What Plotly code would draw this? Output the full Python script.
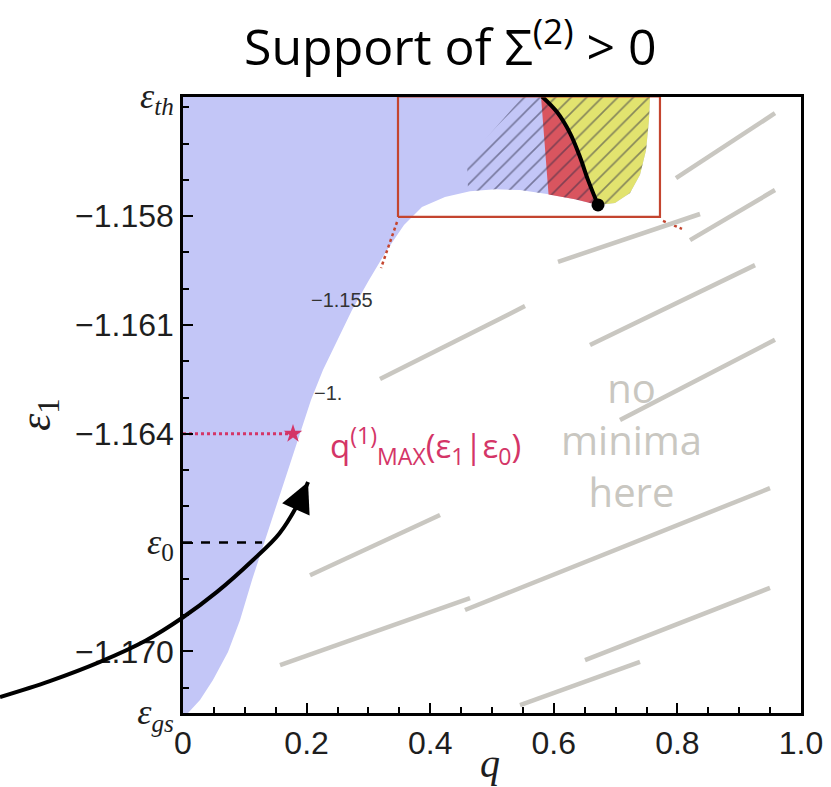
import numpy as np
import plotly.graph_objects as go

# ---------------- data ----------------
EPS_GS = -1.1717      # ground state energy (bottom of axis)
EPS_TH = -1.1547      # threshold energy (top of axis)
EPS_0 = -1.167        # reference energy eps_0
EPS_1_MARK = -1.164   # eps_1 used for q_max annotation
Q_MAX_MARK = 0.178

x_tick_vals = [0, 0.2, 0.4, 0.6, 0.8, 1.0]
x_tick_text = ["0", "0.2", "0.4", "0.6", "0.8", "1.0"]
y_tick_vals = [EPS_TH, -1.158, -1.161, -1.164, EPS_0, -1.170, EPS_GS]
SERIF = "font-family:Liberation Serif;font-size:36px"
y_tick_text = [
    f'<span style="{SERIF}"><i>ε</i><sub><i>th</i></sub></span>',
    "−1.158", "−1.161", "−1.164",
    f'<span style="{SERIF}"><i>ε</i><sub>0</sub></span>',
    "−1.170",
    f'<span style="{SERIF}"><i>ε</i><sub><i>gs</i></sub></span>',
]

# lower boundary of the support (q, eps1)
boundary_q = [0.0, 0.0081, 0.0275, 0.0485, 0.0728, 0.0922, 0.1117, 0.1311, 0.1537,
              0.1748, 0.1877, 0.2071, 0.2265, 0.2492, 0.2735, 0.3010, 0.3301, 0.3576,
              0.3867, 0.4239, 0.4644, 0.5049, 0.5453, 0.5890, 0.6343, 0.6715, 0.6990,
              0.7233, 0.7395, 0.7492, 0.7540, 0.7557]
boundary_eps = [-1.17170, -1.17170, -1.17134, -1.17079, -1.17002, -1.16914, -1.16803,
                -1.16701, -1.16583, -1.16472, -1.16403, -1.16307, -1.16224, -1.16142,
                -1.16059, -1.15976, -1.15893, -1.15824, -1.15775, -1.15747, -1.15731,
                -1.15726, -1.15728, -1.15739, -1.15753, -1.15769, -1.15764, -1.15736,
                -1.15686, -1.15618, -1.15535, -1.15470]

# critical line (black) separating red and yellow
critical_q = [0.5809, 0.6052, 0.6262, 0.6424, 0.6553, 0.6715]
critical_eps = [-1.15470, -1.15513, -1.15571, -1.15637, -1.15700, -1.15769]

# blue / red separation
red_edge_q = [0.5793, 0.5915]
red_edge_eps = [-1.15470, -1.15740]

# hatched area left edge
hatch_edge_q = [0.5502, 0.4595, 0.4612]
hatch_edge_eps = [-1.15470, -1.15645, -1.15731]

# zoom box
box_q = [0.3479, 0.7718]
box_eps = [-1.15802, -1.15470]
guide_left_q = [0.3463, 0.3204]
guide_left_eps = [-1.15816, -1.15943]
guide_right_q = [0.7767, 0.8074]
guide_right_eps = [-1.15813, -1.15835]

# hand-drawn "no minima" strokes (start q, start eps, end q, end eps)
stroke_q0 = [0.7977, 0.8204, 0.6068, 0.3188, 0.6586, 0.7071, 0.2055, 0.4563, 0.1570, 0.6505, 0.5453]
stroke_e0 = [-1.15695, -1.15866, -1.15926, -1.16249, -1.16155, -1.16362, -1.16790, -1.16886, -1.17038, -1.17024, -1.17148]
stroke_q1 = [0.9579, 0.9579, 0.8366, 0.5534, 0.9256, 0.9579, 0.4159, 0.9498, 0.4644, 0.9498, 0.7395]
stroke_e1 = [-1.15516, -1.15728, -1.15794, -1.16048, -1.15935, -1.16141, -1.16624, -1.16550, -1.16853, -1.16825, -1.17029]

# hand-drawn arrow
arrow_q = [-0.2961, -0.2155, -0.1343, -0.0600, -0.0016, 0.0550, 0.1133, 0.1560, 0.1893]
arrow_eps = [-1.17126, -1.17082, -1.17029, -1.16970, -1.16908, -1.16836, -1.16748,
             -1.16675, -1.16583]
arrow_tip = (0.2023, -1.16533)

# ---------------- layout geometry ----------------
FIG_W, FIG_H = 831, 787
PLOT_L, PLOT_R, PLOT_T, PLOT_B = 183, 801, 96.5, 713
X_RANGE = [0.0, 1.0]
Y_RANGE = [EPS_GS, EPS_TH]
sx = (X_RANGE[1] - X_RANGE[0]) / (PLOT_R - PLOT_L)
sy = (Y_RANGE[1] - Y_RANGE[0]) / (PLOT_B - PLOT_T)
X2_RANGE = [X_RANGE[0] - PLOT_L * sx, X_RANGE[1] + (FIG_W - PLOT_R) * sx]
Y2_RANGE = [Y_RANGE[0] - (FIG_H - PLOT_B) * sy, Y_RANGE[1] + PLOT_T * sy]

BLUE = "#c3c6f7"
RED = "#d9555f"
YELLOW = "#e2e36f"
PINK = "#d43567"
BOXRED = "#c4452f"
GRAY = "#c9c7c1"

fig = go.Figure()

# blue support region
fig.add_trace(go.Scatter(
    x=boundary_q + [0.0], y=boundary_eps + [EPS_TH],
    fill="toself", fillcolor=BLUE, line=dict(width=0),
    mode="lines", hoverinfo="skip", showlegend=False))

# red region
bq = np.array(boundary_q); be = np.array(boundary_eps)
sel = (bq > red_edge_q[1]) & (bq < critical_q[-1])
red_x = red_edge_q + list(bq[sel]) + critical_q[::-1]
red_y = red_edge_eps + list(be[sel]) + critical_eps[::-1]
fig.add_trace(go.Scatter(x=red_x, y=red_y, fill="toself", fillcolor=RED,
                         line=dict(width=0), mode="lines", hoverinfo="skip", showlegend=False))

# yellow region
sel = bq > critical_q[-1]
yel_x = critical_q + list(bq[sel])
yel_y = critical_eps + list(be[sel])
fig.add_trace(go.Scatter(x=yel_x, y=yel_y, fill="toself", fillcolor=YELLOW,
                         line=dict(width=0), mode="lines", hoverinfo="skip", showlegend=False))

# hatching
sel = bq > hatch_edge_q[-1]
h_x = hatch_edge_q + list(bq[sel])
h_y = hatch_edge_eps + list(be[sel])
fig.add_trace(go.Scatter(
    x=h_x, y=h_y, fill="toself", fillcolor="rgba(0,0,0,0)",
    fillpattern=dict(shape="/", fgcolor="#2b2b45", bgcolor="rgba(0,0,0,0)",
                     size=11, solidity=0.15),
    line=dict(width=0), mode="lines", hoverinfo="skip", showlegend=False))

# black critical line and dot
fig.add_trace(go.Scatter(x=critical_q, y=critical_eps, mode="lines",
                         line=dict(color="black", width=4, shape="spline"),
                         hoverinfo="skip", showlegend=False))
fig.add_trace(go.Scatter(x=[critical_q[-1]], y=[critical_eps[-1]], mode="markers",
                         marker=dict(color="black", size=13), hoverinfo="skip", showlegend=False))

# zoom box
fig.add_trace(go.Scatter(
    x=[box_q[0], box_q[1], box_q[1], box_q[0], box_q[0]],
    y=[box_eps[0], box_eps[0], box_eps[1], box_eps[1], box_eps[0]],
    mode="lines", line=dict(color=BOXRED, width=2.2), hoverinfo="skip", showlegend=False))
for gq, ge in [(guide_left_q, guide_left_eps), (guide_right_q, guide_right_eps)]:
    fig.add_trace(go.Scatter(x=gq, y=ge, mode="lines",
                             line=dict(color=BOXRED, width=2.5, dash="dot"),
                             hoverinfo="skip", showlegend=False))

# eps_0 dashed line
fig.add_trace(go.Scatter(x=[0.0, 0.128], y=[EPS_0, EPS_0], mode="lines",
                         line=dict(color="black", width=2.5, dash="dash"),
                         hoverinfo="skip", showlegend=False))

# pink q_max marker
fig.add_trace(go.Scatter(x=[0.0, Q_MAX_MARK], y=[EPS_1_MARK, EPS_1_MARK], mode="lines",
                         line=dict(color=PINK, width=3, dash="dot"),
                         hoverinfo="skip", showlegend=False))
fig.add_trace(go.Scatter(x=[Q_MAX_MARK], y=[EPS_1_MARK], mode="markers",
                         marker=dict(symbol="star", color=PINK, size=14),
                         hoverinfo="skip", showlegend=False))

# ---- overlay (full-figure) traces ----
for i in range(len(stroke_q0)):
    fig.add_trace(go.Scatter(x=[stroke_q0[i], stroke_q1[i]], y=[stroke_e0[i], stroke_e1[i]],
                             mode="lines", line=dict(color=GRAY, width=4.5),
                             xaxis="x2", yaxis="y2", hoverinfo="skip", showlegend=False))

fig.add_trace(go.Scatter(x=arrow_q + [arrow_tip[0]], y=arrow_eps + [arrow_tip[1]],
                         mode="lines", line=dict(color="black", width=4, shape="spline"),
                         xaxis="x2", yaxis="y2", hoverinfo="skip", showlegend=False))

axis_common = dict(showline=True, linecolor="black", linewidth=2.5, mirror=True,
                   ticks="inside", tickcolor="black", tickwidth=2, ticklen=10,
                   showgrid=False, zeroline=False, automargin=False,
                   tickfont=dict(family="Liberation Sans", size=32, color="#1e1e1e"))

fig.update_layout(
    width=FIG_W, height=FIG_H, autosize=False,
    margin=dict(l=0, r=0, t=0, b=0, pad=0, autoexpand=False),
    paper_bgcolor="white", plot_bgcolor="rgba(0,0,0,0)",
    xaxis=dict(domain=[PLOT_L / FIG_W, PLOT_R / FIG_W], range=X_RANGE,
               tickmode="array", tickvals=x_tick_vals, ticktext=x_tick_text,
               minor=dict(dtick=0.05, tick0=0,
                          ticks="inside", ticklen=6, tickwidth=2, tickcolor="black"),
               anchor="y", **axis_common),
    yaxis=dict(domain=[1 - PLOT_B / FIG_H, 1 - PLOT_T / FIG_H], range=Y_RANGE,
               tickmode="array", tickvals=y_tick_vals, ticktext=y_tick_text,
               minor=dict(dtick=0.001, tick0=-1.158,
                          ticks="inside", ticklen=6, tickwidth=2, tickcolor="black"),
               anchor="x", **axis_common),
    xaxis2=dict(domain=[0, 1], range=X2_RANGE, visible=False, anchor="y2", fixedrange=True),
    yaxis2=dict(domain=[0, 1], range=Y2_RANGE, visible=False, anchor="x2", fixedrange=True),
)

ann = []
# arrow head
ann.append(dict(x=arrow_tip[0], y=arrow_tip[1], ax=arrow_q[-1], ay=arrow_eps[-1],
                xref="x2", yref="y2", axref="x2", ayref="y2", text="",
                showarrow=True, arrowhead=2, arrowsize=1.5, arrowwidth=4, arrowcolor="black"))
# contour leftovers
ann.append(dict(x=0.2573, y=-1.16031, xref="x2", yref="y2", text="−1.155", showarrow=False,
                xanchor="center", yanchor="middle",
                font=dict(family="Liberation Sans", size=20, color="#333")))
ann.append(dict(x=0.235, y=-1.16288, xref="x2", yref="y2", text="−1.", showarrow=False,
                xanchor="center", yanchor="middle",
                font=dict(family="Liberation Sans", size=20, color="#333")))
# pink label
ann.append(dict(x=0.2346, y=-1.16431, xref="x2", yref="y2", xanchor="left", yanchor="middle",
                showarrow=False,
                text="q<sup>(1)</sup><sub>MAX</sub>(ε<sub>1</sub>|ε<sub>0</sub>)",
                font=dict(family="Open Sans", size=33, color=PINK)))
# no minima here
ann.append(dict(x=0.7265, y=-1.16417, xref="x2", yref="y2", showarrow=False,
                xanchor="center", yanchor="middle",
                text="no<br>minima<br>here",
                font=dict(family="Open Sans", size=40, color=GRAY)))
# title
ann.append(dict(x=450 / FIG_W, y=1 - 43 / FIG_H, xref="paper", yref="paper", showarrow=False,
                xanchor="center", yanchor="middle",
                text="Support of Σ<sup>(2)</sup> &gt; 0",
                font=dict(family="Open Sans", size=50, color="black")))
# axis titles
ann.append(dict(x=490 / FIG_W, y=1 - 763 / FIG_H, xref="paper", yref="paper", showarrow=False,
                xanchor="center", yanchor="middle",
                text="<i>q</i>", font=dict(family="Liberation Serif", size=40, color="#1e1e1e")))
ann.append(dict(x=38 / FIG_W, y=1 - 415 / FIG_H, xref="paper", yref="paper", showarrow=False,
                xanchor="center", yanchor="middle",
                textangle=-90, text="<i>ε</i><sub>1</sub>",
                font=dict(family="Liberation Serif", size=44, color="#1e1e1e")))
fig.update_layout(annotations=ann)

fig.write_html("out.html")
